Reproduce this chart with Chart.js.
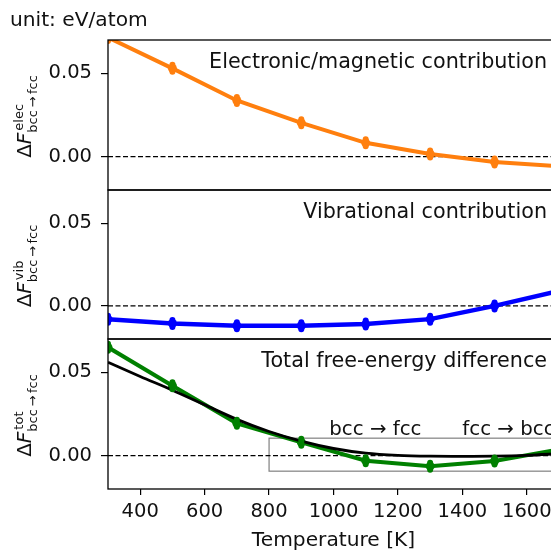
<!DOCTYPE html>
<html>
<head>
<meta charset="utf-8">
<script src="https://cdn.jsdelivr.net/npm/chart.js@4/dist/chart.umd.min.js"></script>
<style>
  html, body { margin: 0; padding: 0; background: #fff; overflow: hidden; }
  #wrap { position: relative; width: 551px; height: 555px; overflow: hidden; }
  canvas { position: absolute; left: 0; }
</style>
</head>
<body>
<div id="wrap">
  <canvas id="p1" width="570" height="196" style="top:0px"></canvas>
  <canvas id="p2" width="570" height="161" style="top:184px"></canvas>
  <canvas id="p3" width="570" height="222" style="top:333px"></canvas>
</div>
<script>
// ---- data (eV/atom) ----
const temps = [300, 500, 700, 900, 1100, 1300, 1500, 1700];
const elec  = [0.0715, 0.053, 0.0337, 0.0203, 0.0083, 0.0016, -0.0032, -0.0057];
const vib   = [-0.008, -0.0106, -0.012, -0.012, -0.011, -0.008, 0.0, 0.0091];
const tot   = [0.065, 0.042, 0.0194, 0.008, -0.003, -0.0063, -0.0032, 0.0037];

// smooth fitted curve for the total
const fitTemps = [300, 400, 500, 600, 700, 800, 900, 1000, 1100, 1200, 1300, 1400, 1500, 1600, 1700];
const fitTot   = [0.056, 0.0475, 0.0393, 0.0305, 0.0218, 0.0145, 0.0087, 0.0043, 0.0015, 0.0002, -0.0003, -0.0004, -0.0003, 0.0002, 0.0012];

const xTicks = [400, 600, 800, 1000, 1200, 1400, 1600];
const yTicks = [0, 0.05];
const xRange = [300, 1700];
const yRange = [-0.02, 0.07];

// window of the two transitions and its labels
const boxX = [800, 1700];
const boxY = [-0.0093, 0.0105];
const notes = [
  { text: 'bcc \u2192 fcc', x: 1130, y: 0.0127 },
  { text: 'fcc \u2192 bcc', x: 1543, y: 0.0127 },
];

const FONT = '"DejaVu Sans", sans-serif';
const INK = '#111';

const pts = (xs, ys) => xs.map((x, i) => ({ x, y: ys[i] }));

function drawYLabel(ctx, cx, cy, sup) {
  ctx.save();
  ctx.translate(cx, cy);
  ctx.rotate(-Math.PI / 2);
  ctx.fillStyle = INK;
  ctx.textBaseline = 'alphabetic';
  ctx.textAlign = 'left';
  const big = '20px ' + FONT, bigIt = 'italic 20px ' + FONT, small = '13px ' + FONT;
  const sub = 'bcc\u2009\u2192\u2009fcc';
  ctx.font = big; const wD = ctx.measureText('\u0394').width;
  ctx.font = bigIt; const wF = ctx.measureText('F').width;
  ctx.font = small;
  const wSup = ctx.measureText(sup).width, wSub = ctx.measureText(sub).width;
  const total = wD + wF + 1 + Math.max(wSup, wSub);
  let x0 = -total / 2;
  ctx.font = big; ctx.fillText('\u0394', x0, 0);
  ctx.font = bigIt; ctx.fillText('F', x0 + wD, 0);
  ctx.font = small;
  ctx.fillText(sup, x0 + wD + wF + 2, -8);
  ctx.fillText(sub, x0 + wD + wF, 5.5);
  ctx.restore();
}

const decoPlugin = {
  id: 'deco',
  beforeDatasetsDraw(chart, args, o) {
    const { ctx, chartArea: a, scales: { x, y } } = chart;
    ctx.save();
    ctx.beginPath();
    ctx.rect(a.left, a.top, a.right - a.left, a.bottom - a.top);
    ctx.clip();
    if (o.box) {
      ctx.strokeStyle = '#808080';
      ctx.lineWidth = 1.2;
      const x1 = x.getPixelForValue(boxX[0]), x2 = x.getPixelForValue(boxX[1]);
      const y1 = y.getPixelForValue(boxY[1]), y2 = y.getPixelForValue(boxY[0]);
      ctx.strokeRect(x1, y1, x2 - x1, y2 - y1);
    }
    const y0 = y.getPixelForValue(0);
    ctx.setLineDash([5, 2.5]);
    ctx.lineWidth = 1.4;
    ctx.strokeStyle = '#000';
    ctx.beginPath();
    ctx.moveTo(a.left, y0);
    ctx.lineTo(a.right, y0);
    ctx.stroke();
    ctx.restore();
  },
  afterDatasetsDraw(chart) {
    // short vertical error bars on the markers
    const { ctx, chartArea: a } = chart;
    ctx.save();
    ctx.beginPath();
    ctx.rect(a.left, a.top, a.right - a.left, a.bottom - a.top);
    ctx.clip();
    chart.data.datasets.forEach((ds, i) => {
      if (!ds.errBar) return;
      ctx.strokeStyle = ds.borderColor;
      ctx.lineWidth = 6;
      ctx.lineCap = 'round';
      chart.getDatasetMeta(i).data.forEach(p => {
        ctx.beginPath();
        ctx.moveTo(p.x, p.y - 3.5);
        ctx.lineTo(p.x, p.y + 3.5);
        ctx.stroke();
      });
    });
    ctx.restore();
  },
  afterDraw(chart, args, o) {
    const { ctx, chartArea: a, scales: { x, y } } = chart;
    ctx.save();
    // frame
    ctx.strokeStyle = '#000';
    ctx.lineWidth = 1.3;
    ctx.strokeRect(a.left, a.top, a.right - a.left, a.bottom - a.top);
    // panel caption
    ctx.fillStyle = INK;
    ctx.font = '20.7px ' + FONT;
    ctx.textAlign = 'right';
    ctx.textBaseline = 'alphabetic';
    ctx.fillText(o.title, a.right - 12, a.top + 28);
    if (o.box) {
      ctx.font = '19.8px ' + FONT;
      ctx.textAlign = 'center';
      notes.forEach(n => ctx.fillText(n.text, x.getPixelForValue(n.x), y.getPixelForValue(n.y)));
    }
    if (o.unit) {
      ctx.font = '20.2px ' + FONT;
      ctx.textAlign = 'left';
      ctx.fillText(o.unit, 10, 26);
    }
    ctx.restore();
    drawYLabel(ctx, 31, (a.top + a.bottom) / 2 + 1, o.sup);
  }
};

function makePanel(id, datasets, panelOpts, showX, pad) {
  return new Chart(document.getElementById(id), {
    type: 'line',
    data: { datasets },
    options: {
      responsive: false,
      animation: false,
      devicePixelRatio: 1,
      layout: { padding: pad },
      plugins: { legend: { display: false }, tooltip: { enabled: false }, deco: panelOpts },
      scales: {
        x: {
          type: 'linear',
          min: xRange[0], max: xRange[1],
          display: showX,
          afterBuildTicks: s => { s.ticks = xTicks.map(v => ({ value: v })); },
          afterFit: s => { if (showX) s.height = 66; s.paddingLeft = 0; s.paddingRight = 0; },
          border: { display: false },
          grid: { drawOnChartArea: false, drawTicks: true, tickLength: 6, color: '#000', lineWidth: 1.2 },
          ticks: { color: INK, font: { family: FONT, size: 19.5 }, padding: 5, maxRotation: 0, autoSkip: false, callback: v => String(v) },
          title: { display: true, text: 'Temperature [K]', color: INK, font: { family: FONT, size: 20.2 }, padding: { top: 2, bottom: 2 } }
        },
        y: {
          min: yRange[0], max: yRange[1],
          afterBuildTicks: s => { s.ticks = yTicks.map(v => ({ value: v })); },
          afterFit: s => { s.width = 108; s.paddingTop = 0; s.paddingBottom = 0; },
          border: { display: false },
          grid: { drawOnChartArea: false, drawTicks: true, tickLength: 7, color: '#000', lineWidth: 1.2 },
          ticks: { color: INK, font: { family: FONT, size: 19.5 }, padding: 9, callback: v => v.toFixed(2) }
        }
      }
    },
    plugins: [decoPlugin]
  });
}

const series = (data, color, width) => ({
  data, borderColor: color, backgroundColor: color, borderWidth: width,
  pointRadius: 4.5, pointBorderWidth: 0, tension: 0, errBar: true
});

makePanel('p1', [series(pts(temps, elec), '#ff7f0e', 4)],
  { title: 'Electronic/magnetic contribution', sup: 'elec', unit: 'unit: eV/atom' }, false,
  { top: 40, right: 11, bottom: 6, left: 0 });

makePanel('p2', [series(pts(temps, vib), '#0000ff', 4.5)],
  { title: 'Vibrational contribution', sup: 'vib' }, false,
  { top: 6, right: 11, bottom: 6, left: 0 });

makePanel('p3', [
    { data: pts(fitTemps, fitTot), borderColor: '#000', borderWidth: 2.8, pointRadius: 0, cubicInterpolationMode: 'monotone' },
    series(pts(temps, tot), '#008000', 4)
  ],
  { title: 'Total free-energy difference', sup: 'tot', box: true }, true,
  { top: 6, right: 11, bottom: 0, left: 0 });
</script>
</body>
</html>
